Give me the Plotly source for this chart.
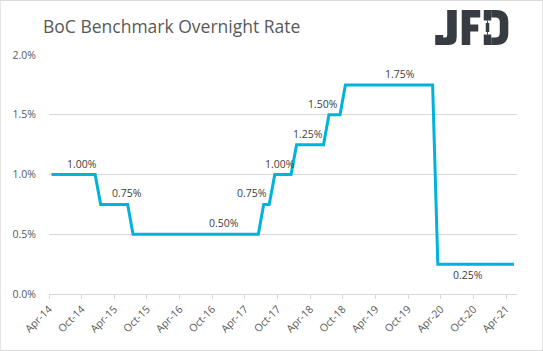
import pandas as pd
import plotly.graph_objects as go

# ---- data (monthly BoC overnight rate, %) ----
start_month = "2014-04-01"
rate_2014 = [1.00, 1.00, 1.00, 1.00, 1.00, 1.00, 1.00, 1.00, 1.00]              # Apr-Dec
rate_2015 = [0.75, 0.75, 0.75, 0.75, 0.75, 0.75, 0.50, 0.50, 0.50, 0.50, 0.50, 0.50]
rate_2016 = [0.50, 0.50, 0.50, 0.50, 0.50, 0.50, 0.50, 0.50, 0.50, 0.50, 0.50, 0.50]
rate_2017 = [0.50, 0.50, 0.50, 0.50, 0.50, 0.50, 0.75, 0.75, 1.00, 1.00, 1.00, 1.00]
rate_2018 = [1.25, 1.25, 1.25, 1.25, 1.25, 1.25, 1.50, 1.50, 1.50, 1.75, 1.75, 1.75]
rate_2019 = [1.75, 1.75, 1.75, 1.75, 1.75, 1.75, 1.75, 1.75, 1.75, 1.75, 1.75, 1.75]
rate_2020 = [1.75, 1.75, 0.25, 0.25, 0.25, 0.25, 0.25, 0.25, 0.25, 0.25, 0.25, 0.25]
rate_2021 = [0.25, 0.25, 0.25, 0.25, 0.25]                                        # Jan-May

rates = rate_2014 + rate_2015 + rate_2016 + rate_2017 + rate_2018 + rate_2019 + rate_2020 + rate_2021
dates = pd.date_range(start=start_month, periods=len(rates), freq="MS") + pd.Timedelta(days=14)

label_dates = ["2014-10-01", "2015-06-10", "2016-12-05", "2017-05-13", "2017-10-14",
               "2018-03-21", "2018-06-13", "2019-08-17", "2020-09-01"]
label_values = [1.00, 0.75, 0.50, 0.75, 1.00, 1.25, 1.50, 1.75, 0.25]
label_texts = ["1.00%", "0.75%", "0.50%", "0.75%", "1.00%", "1.25%", "1.50%", "1.75%", "0.25%"]
label_side = [1, 1, 1, 1, 1, 1, 1, 1, -1]   # 1 above, -1 below

title_text = "BoC Benchmark Overnight Rate"

# ---- layout geometry ----
W, H = 543, 351
L, R, T, B = 49.3, 26.3, 55, 57
PW, PH = W - L - R, H - T - B


def px(x):
    return (x - L) / PW


def py(y):
    return (H - B - y) / PH


def path(cmds):
    out = []
    for c in cmds:
        if isinstance(c, str):
            out.append(c)
        else:
            out.append(f"{px(c[0]):.5f},{py(c[1]):.5f}")
    return " ".join(out)


LINE = "#00b3dc"
GRID = "#d9d9d9"
TXT = "#595959"
LOGO = "#373c42"
FONT = "Open Sans, Liberation Sans, sans-serif"

fig = go.Figure()
fig.add_trace(go.Scatter(x=dates, y=rates, mode="lines",
                         line=dict(color=LINE, width=3), hoverinfo="skip",
                         showlegend=False))

annotations = []
for d, v, t, s in zip(label_dates, label_values, label_texts, label_side):
    annotations.append(dict(x=d, y=v, xref="x", yref="y", text=t, showarrow=False,
                            yshift=11 * s, xanchor="center", yanchor="middle",
                            font=dict(family=FONT, size=10.5, color="#404040")))

annotations.append(dict(x=px(41), y=py(26), xref="paper", yref="paper", text=title_text,
                        showarrow=False, xanchor="left", yanchor="middle",
                        font=dict(family=FONT, size=17.5, color=TXT)))

shapes = [dict(type="rect", xref="paper", yref="paper",
               x0=px(0.5), x1=px(W - 0.5), y0=py(H - 0.5), y1=py(0.5),
               line=dict(color=GRID, width=1), fillcolor="rgba(0,0,0,0)", layer="below")]

# ---- JFD logo drawn as shapes ----
logo_paths = [
    # J
    ["M", (447, 10), "L", (456.5, 10), "L", (456.5, 37), "Q", (456.5, 45), (448.5, 45),
     "L", (435, 45), "L", (435, 35), "L", (443, 35), "L", (443, 37.5), "L", (445, 37.5),
     "Q", (447, 37.5), (447, 35), "Z"],
    # F
    ["M", (461.5, 10), "L", (480, 10), "L", (480, 17.5), "L", (470, 17.5), "L", (470, 24.5),
     "L", (478, 24.5), "L", (478, 31.5), "L", (470, 31.5), "L", (470, 45), "L", (461.5, 45), "Z"],
    # D outer bow
    ["M", (491, 10), "L", (496, 10), "Q", (508, 10), (508, 22), "L", (508, 33),
     "Q", (508, 45), (496, 45), "L", (491, 45), "L", (491, 37.5), "L", (495, 37.5),
     "Q", (499.5, 37.5), (499.5, 33), "L", (499.5, 22), "Q", (499.5, 17.5), (495, 17.5),
     "L", (491, 17.5), "Z"],
    # D stem top / bottom
    ["M", (483.5, 10), "L", (491, 10), "L", (491, 20.5), "L", (483.5, 20.5), "Z"],
    ["M", (483.5, 34.5), "L", (491, 34.5), "L", (491, 45), "L", (483.5, 45), "Z"],
    # candle body
    ["M", (485.5, 23), "L", (489, 23), "L", (489, 32), "L", (485.5, 32), "Z"],
    # wick
    ["M", (486.8, 20.5), "L", (487.7, 20.5), "L", (487.7, 34.5), "L", (486.8, 34.5), "Z"],
]
for p in logo_paths:
    shapes.append(dict(type="path", xref="paper", yref="paper", path=path(p),
                       fillcolor=LOGO, line=dict(width=0), layer="above"))

fig.update_layout(
    width=W, height=H,
    margin=dict(l=L, r=R, t=T, b=B),
    paper_bgcolor="white", plot_bgcolor="white",
    annotations=annotations, shapes=shapes,
    xaxis=dict(type="date", range=["2014-04-01", "2021-06-01"],
               tick0="2014-04-01", dtick="M6", tickformat="%b-%y", tickangle=-45,
               showgrid=False, showline=True, linecolor=GRID, linewidth=1,
               ticks="outside", ticklen=4, tickcolor=GRID, tickwidth=1,
               tickfont=dict(family=FONT, size=10.5, color=TXT), zeroline=False),
    yaxis=dict(range=[0, 2.0], dtick=0.5, tickformat=".1f", ticksuffix="%",
               showgrid=True, gridcolor=GRID, gridwidth=1, zeroline=False,
               showline=False, ticks="", ticklabelstandoff=12,
               tickfont=dict(family=FONT, size=10.5, color=TXT)),
)

fig.write_html("out.html")
